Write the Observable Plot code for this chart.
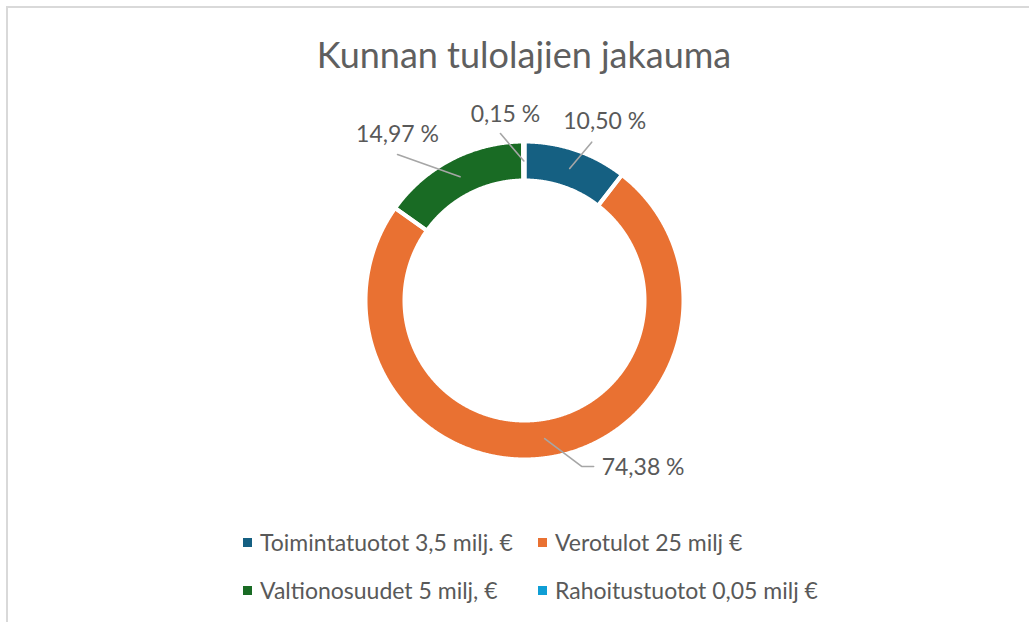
<!DOCTYPE html>
<html><head><meta charset="utf-8">
<script src="https://cdn.jsdelivr.net/npm/d3@7"></script>
<script src="https://cdn.jsdelivr.net/npm/@observablehq/plot@0.6"></script>
<style>
html,body{margin:0;padding:0;width:1029px;height:622px;overflow:hidden;background:#fff;font-family:Lato, "Open Sans", sans-serif;color:#595959}
#frame{position:absolute;left:6px;top:6px;width:1100px;height:700px;border:2px solid #d9d9d9;box-sizing:border-box}
#title{position:absolute;left:0;top:29px;width:1048px;text-align:center;font-size:36px;line-height:50px;white-space:nowrap;color:#5f5f5f}
#chart{position:absolute;left:0;top:100px}
#legend{position:absolute;left:243px;top:529px;display:grid;grid-template-columns:295px auto;row-gap:22px;font-size:23px}
.item{display:flex;align-items:center;line-height:26px;white-space:nowrap}
.sw{width:9px;height:9px;margin-right:8px;flex:none}
</style></head>
<body>
<div id="frame"></div>
<div id="title"></div>
<div id="chart"></div>
<div id="legend"></div>
<script>
// ---- data ----
const titleText = "Kunnan tulolajien jakauma";
const categories = ["Toimintatuotot 3,5 milj. €", "Verotulot 25 milj €", "Valtionosuudet 5 milj, €", "Rahoitustuotot 0,05 milj €"];
const shares = [10.50, 74.38, 14.97, 0.15];
const shareLabels = ["10,50 %", "74,38 %", "14,97 %", "0,15 %"];
const colors = ["#156082", "#e97132", "#196b24", "#0f9ed5"];

// ---- layout (not data) ----
const W = 1029, H = 400, CX = 524, CY = 200;
const R_OUT = 159, R_IN = 120, R_MID = 139.5;
// leader end points (polar, degrees clockwise from top) and text offsets
const labelLayout = [
  {angle: 23.0, r: 172, elbow: 0, dx: 13, dy: -21, anchor: "middle"},
  {angle: 161.0, r: 175.5, elbow: 12, dx: 8, dy: 1, anchor: "start"},
  {angle: 319.0, r: 193.5, elbow: 0, dx: 0, dy: -20, anchor: "middle"},
  {angle: 351.8, r: 168.7, elbow: 0, dx: 5, dy: -19, anchor: "middle"}
];

document.getElementById("title").textContent = titleText;

const rows = categories.map((name, i) => ({name, share: shares[i], label: shareLabels[i], i}));
const arcs = d3.pie().sort(null).value(d => d.share)(rows);
const pol = (a, r) => [r * Math.sin(a), -r * Math.cos(a)];

// ring outlines built from each slice's start/end angle
const ringPts = [];
for (const a of arcs) {
  const n = Math.max(2, Math.ceil((a.endAngle - a.startAngle) / 0.005));
  const outer = d3.range(n + 1).map(k => a.startAngle + (a.endAngle - a.startAngle) * k / n);
  for (const t of outer) { const [x, y] = pol(t, R_OUT); ringPts.push({name: a.data.name, x, y}); }
  for (const t of outer.slice().reverse()) { const [x, y] = pol(t, R_IN); ringPts.push({name: a.data.name, x, y}); }
}

// leader lines and label positions
const leaderPts = [], textPts = [];
arcs.forEach((a, i) => {
  const L = labelLayout[i];
  const mid = (a.startAngle + a.endAngle) / 2;
  const [sx, sy] = pol(mid, R_MID);
  const [ex, ey] = pol(L.angle * Math.PI / 180, L.r);
  leaderPts.push({k: i, x: sx, y: sy});
  leaderPts.push({k: i, x: ex, y: ey});
  let tx = ex, ty = ey;
  if (L.elbow) { tx = ex + L.elbow; leaderPts.push({k: i, x: tx, y: ey}); }
  textPts.push({x: tx + L.dx, y: ty + L.dy, label: a.data.label, anchor: L.anchor});
});

const color = {domain: categories, range: colors};
const chart = Plot.plot({
  width: W, height: H, margin: 0,
  x: {domain: [-CX, W - CX], range: [0, W], axis: null},
  y: {domain: [-CY, H - CY], range: [0, H], axis: null},
  color,
  style: {background: "transparent", fontFamily: "Lato, 'Open Sans', sans-serif"},
  marks: [
    Plot.line(ringPts, {x: "x", y: "y", z: "name", fill: "name", stroke: null, curve: "linear-closed"}),
    Plot.line(ringPts, {x: "x", y: "y", z: "name", fill: "none", stroke: "#ffffff", strokeWidth: 4, curve: "linear-closed"}),
    Plot.line(leaderPts, {x: "x", y: "y", z: "k", stroke: "#a6a6a6", strokeWidth: 1.6}),
    Plot.text(textPts.filter(d => d.anchor === "middle"), {x: "x", y: "y", text: "label", fill: "#595959", fontSize: 23, textAnchor: "middle"}),
    Plot.text(textPts.filter(d => d.anchor === "start"), {x: "x", y: "y", text: "label", fill: "#595959", fontSize: 23, textAnchor: "start"})
  ]
});
document.getElementById("chart").appendChild(chart);

const legend = document.getElementById("legend");
categories.forEach((c, i) => {
  const it = document.createElement("div"); it.className = "item";
  const sw = document.createElement("span"); sw.className = "sw"; sw.style.background = colors[i];
  const tx = document.createElement("span"); tx.textContent = c;
  it.appendChild(sw); it.appendChild(tx); legend.appendChild(it);
});
</script>
</body></html>
